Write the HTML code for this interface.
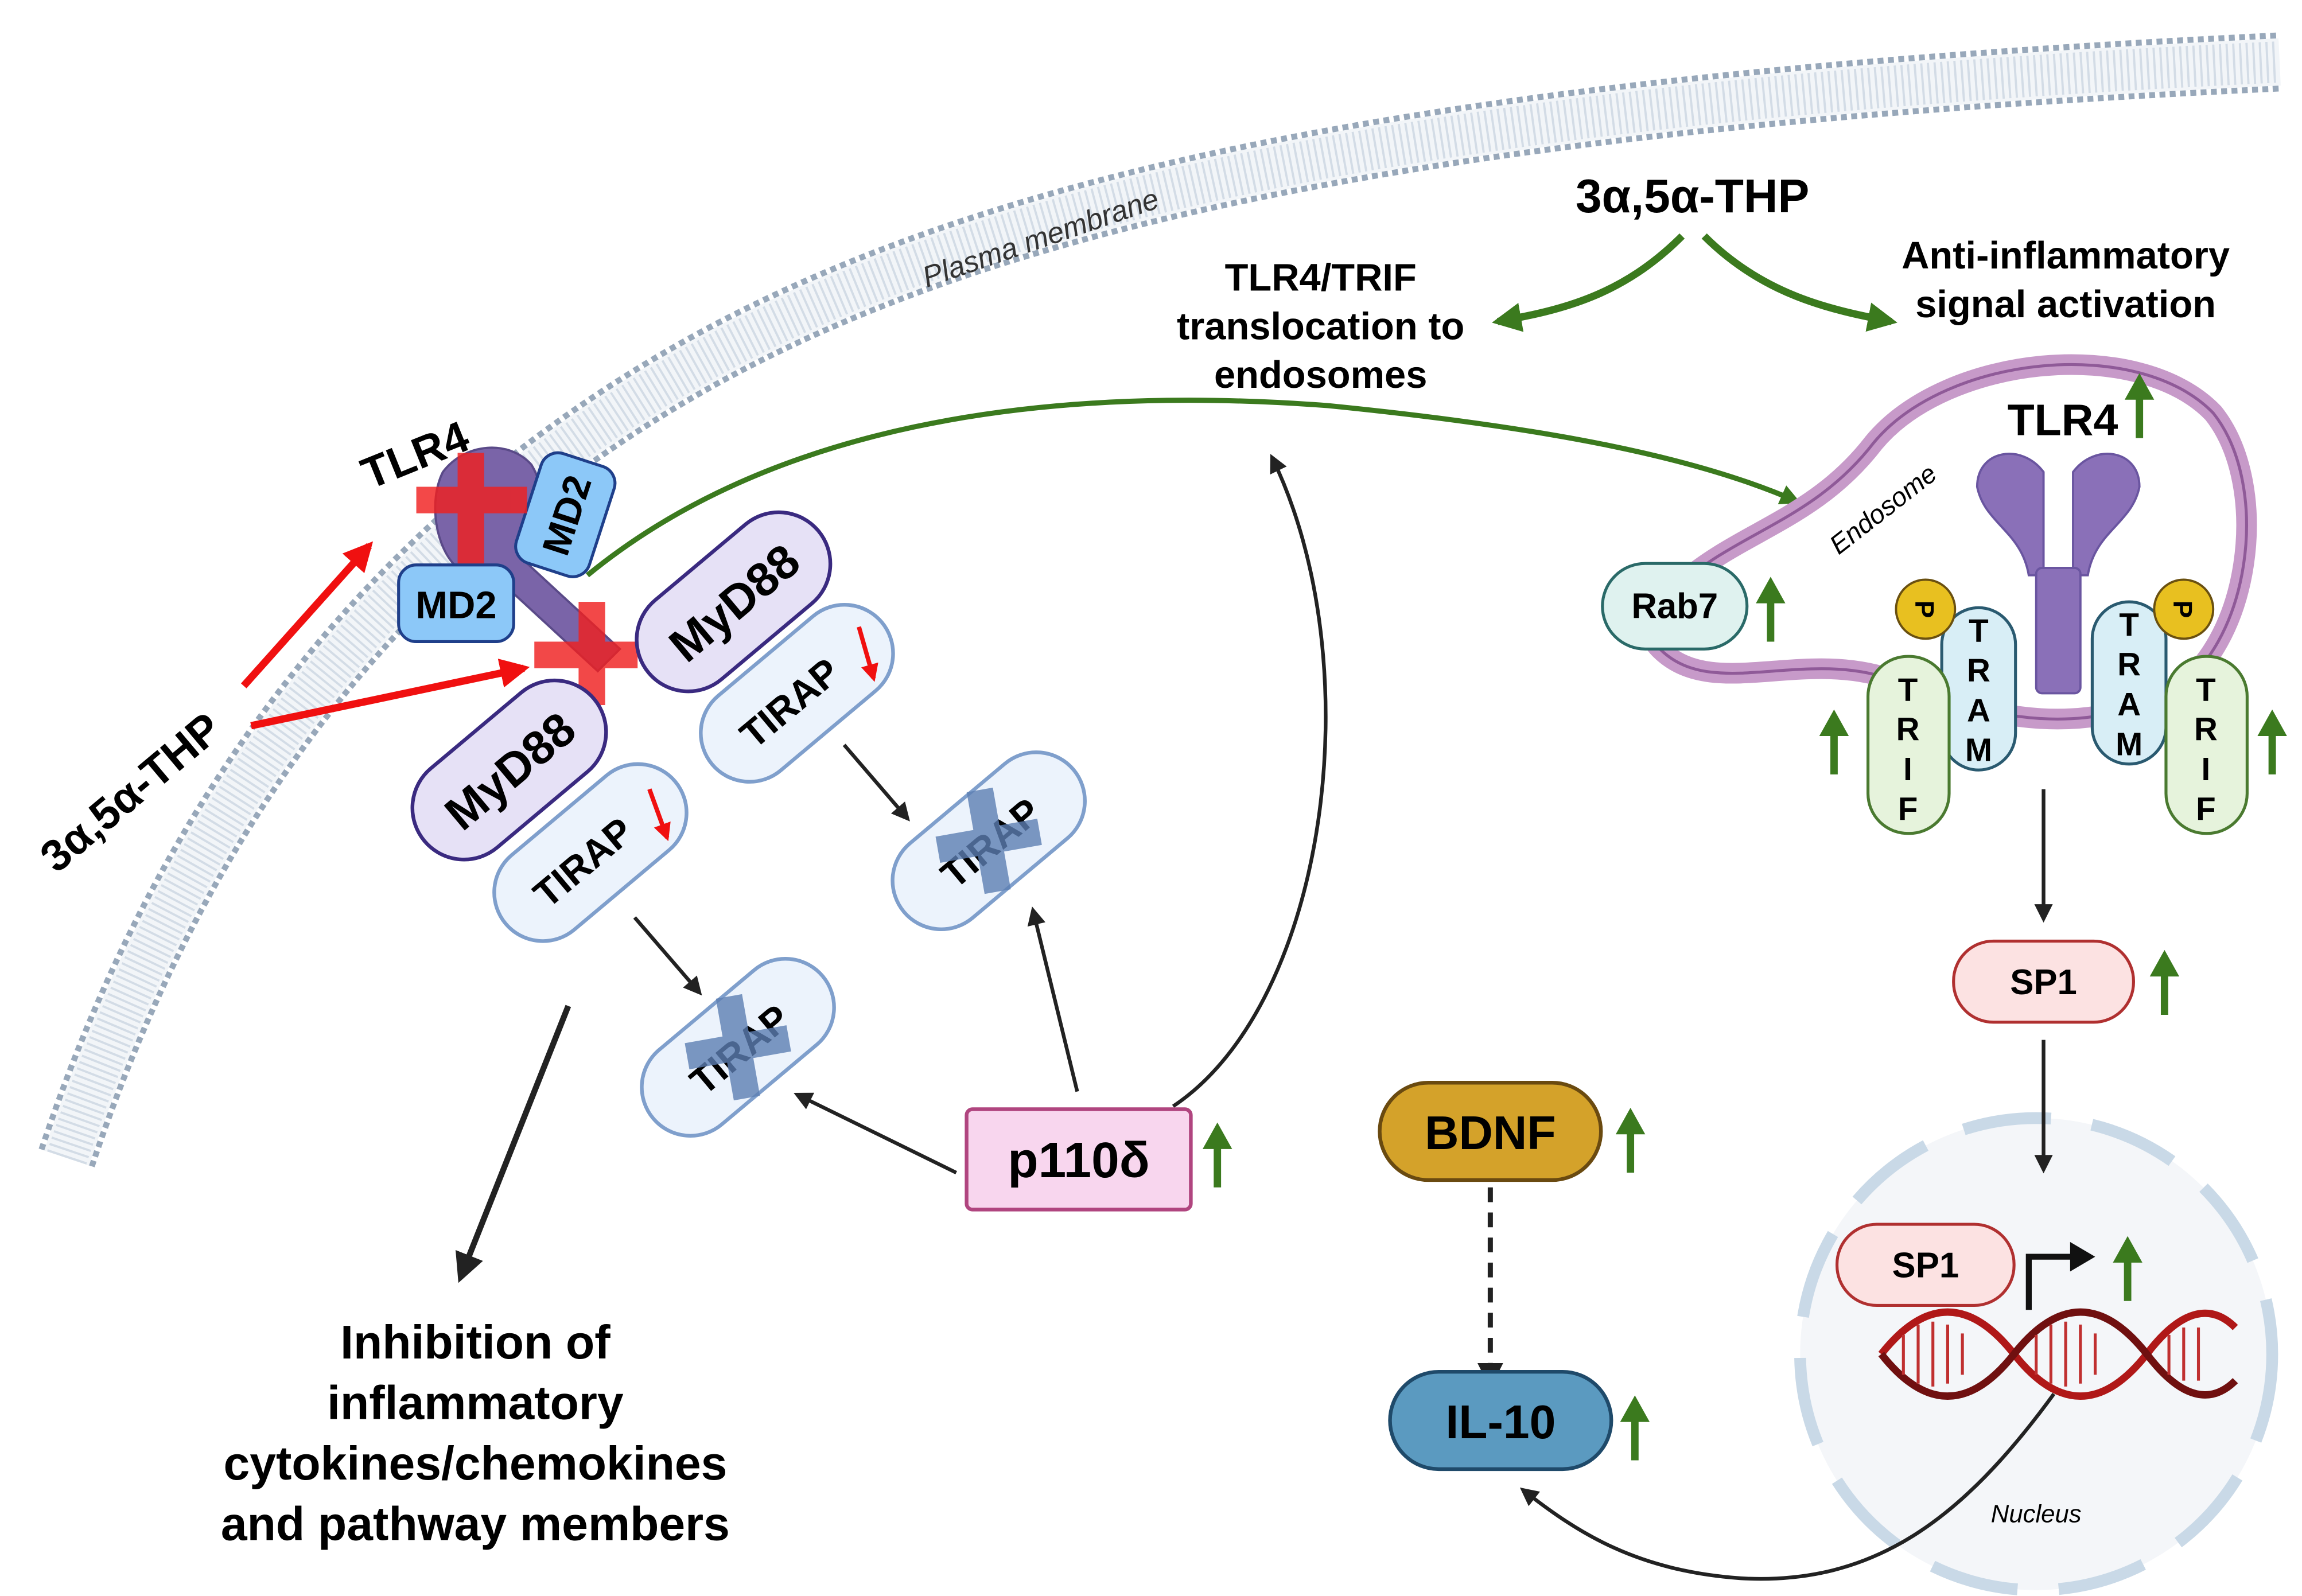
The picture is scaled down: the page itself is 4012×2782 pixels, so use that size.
<!DOCTYPE html>
<html><head><meta charset="utf-8"><style>
html,body{margin:0;padding:0;background:#fff}
svg{display:block}
text{font-family:"Liberation Sans",Arial,sans-serif}
.b{font-weight:bold}
</style></head><body>
<svg width="4012" height="2782" viewBox="0 0 1560 1082" xmlns="http://www.w3.org/2000/svg">
<defs>
<marker id="ak" viewBox="0 0 10 10" refX="8" refY="5" markerWidth="5" markerHeight="5" orient="auto"><path d="M0,0L10,5L0,10z" fill="#222"/></marker>
<marker id="ar" viewBox="0 0 10 10" refX="8" refY="5" markerWidth="4" markerHeight="4" orient="auto"><path d="M0,0L10,5L0,10z" fill="#f01010"/></marker>
<marker id="ag" viewBox="0 0 10 10" refX="8" refY="5" markerWidth="4" markerHeight="4" orient="auto"><path d="M0,0L10,5L0,10z" fill="#3b7a1e"/></marker>
<g id="up"><path d="M0,30 L0,0" stroke="#3b7a1e" stroke-width="5"/><path d="M-10,4 L0,-14 L10,4z" fill="#3b7a1e"/></g>
</defs>

<!-- membrane -->
<path d="M45,785 C120,560 250,380 450,260 C650,140 950,70 1545,42" fill="none" stroke="#98a8ba" stroke-width="40" stroke-dasharray="4 3"/>
<path d="M45,785 C120,560 250,380 450,260 C650,140 950,70 1545,42" fill="none" stroke="#f2f5f8" stroke-width="32"/>
<path d="M45,785 C120,560 250,380 450,260 C650,140 950,70 1545,42" fill="none" stroke="#d3dce6" stroke-width="28" stroke-dasharray="1.5 3"/>
<text x="628" y="195" font-size="20" font-style="italic" fill="#333" transform="rotate(-19 628 195)">Plasma membrane</text>

<!-- top THP -->
<text x="1147" y="144" font-size="32" class="b" text-anchor="middle">3α,5α-THP</text>
<path d="M1140,160 C1100,200 1060,210 1015,218" fill="none" stroke="#3b7a1e" stroke-width="5" marker-end="url(#ag)"/>
<path d="M1155,160 C1195,200 1240,210 1282,218" fill="none" stroke="#3b7a1e" stroke-width="5" marker-end="url(#ag)"/>
<g font-size="26" class="b" text-anchor="middle">
<text x="895" y="197">TLR4/TRIF</text><text x="895" y="230">translocation to</text><text x="895" y="263">endosomes</text>
<text x="1400" y="182">Anti-inflammatory</text><text x="1400" y="215">signal activation</text>
</g>

<!-- left THP -->
<text x="95" y="545" font-size="30" class="b" text-anchor="middle" transform="rotate(-40 95 545)">3α,5α-THP</text>
<path d="M165,465 L250,370" stroke="#f01010" stroke-width="5" marker-end="url(#ar)"/>
<path d="M170,492 L355,453" stroke="#f01010" stroke-width="5" marker-end="url(#ar)"/>

<!-- TLR4 receptor left -->
<path d="M300,320 C315,300 345,298 360,315 C372,335 365,355 350,370 L355,380 L420,440 L405,455 L340,395 L310,385 C295,372 290,340 300,320z" fill="#7a64a8" stroke="#5a4a88" stroke-width="1.5"/>
<text x="285" y="318" font-size="30" class="b" text-anchor="middle" transform="rotate(-22 285 318)">TLR4</text>
<rect x="270" y="383" width="78" height="52" rx="12" fill="#8cc8f8" stroke="#1f3f8a" stroke-width="2"/>
<text x="309" y="419" font-size="26" class="b" text-anchor="middle">MD2</text>
<g transform="rotate(-72 383 349)"><rect x="344" y="323" width="78" height="52" rx="12" fill="#8cc8f8" stroke="#1f3f8a" stroke-width="2"/>
<text x="383" y="359" font-size="26" class="b" text-anchor="middle">MD2</text></g>
<g fill="#f02020" opacity="0.82"><rect x="310" y="307" width="18" height="75"/><rect x="282" y="330" width="75" height="18"/>
<rect x="392" y="408" width="18" height="70"/><rect x="362" y="435" width="70" height="18"/></g>

<!-- green curve to endosome -->
<path d="M398,390 C520,290 700,260 900,275 C1050,290 1150,310 1218,340" fill="none" stroke="#3b7a1e" stroke-width="3.5" marker-end="url(#ag)"/>

<!-- MyD88 / TIRAP -->
<g transform="rotate(-40 497 408)"><rect x="422" y="373" width="150" height="70" rx="35" fill="#e6e1f6" stroke="#3a2a80" stroke-width="2.5"/><text x="497" y="420" font-size="32" class="b" text-anchor="middle">MyD88</text></g>
<g transform="rotate(-40 345 522)"><rect x="270" y="487" width="150" height="70" rx="35" fill="#e6e1f6" stroke="#3a2a80" stroke-width="2.5"/><text x="345" y="534" font-size="32" class="b" text-anchor="middle">MyD88</text></g>
<g transform="rotate(-40 540 470)"><rect x="465" y="437" width="150" height="66" rx="33" fill="#ecf3fc" stroke="#7f9fcc" stroke-width="2.5"/><text x="532" y="481" font-size="26" class="b" text-anchor="middle">TIRAP</text></g>
<path d="M582,425 L592,460" stroke="#f01010" stroke-width="3" marker-end="url(#ar)"/>
<g transform="rotate(-40 400 578)"><rect x="325" y="545" width="150" height="66" rx="33" fill="#ecf3fc" stroke="#7f9fcc" stroke-width="2.5"/><text x="392" y="589" font-size="26" class="b" text-anchor="middle">TIRAP</text></g>
<path d="M440,535 L452,568" stroke="#f01010" stroke-width="3" marker-end="url(#ar)"/>
<g transform="rotate(-40 670 570)"><rect x="595" y="537" width="150" height="66" rx="33" fill="#ecf3fc" stroke="#7f9fcc" stroke-width="2.5"/><text x="670" y="581" font-size="26" class="b" text-anchor="middle">TIRAP</text>
<g fill="#5d7fb3" opacity="0.8"><rect x="661" y="535" width="18" height="70" transform="rotate(30 670 570)"/><rect x="635" y="561" width="70" height="18" transform="rotate(30 670 570)"/></g></g>
<g transform="rotate(-40 500 710)"><rect x="425" y="677" width="150" height="66" rx="33" fill="#ecf3fc" stroke="#7f9fcc" stroke-width="2.5"/><text x="500" y="721" font-size="26" class="b" text-anchor="middle">TIRAP</text>
<g fill="#5d7fb3" opacity="0.8"><rect x="491" y="675" width="18" height="70" transform="rotate(30 500 710)"/><rect x="465" y="701" width="70" height="18" transform="rotate(30 500 710)"/></g></g>

<!-- black arrows left -->
<g stroke="#222" stroke-width="2.5" fill="none" marker-end="url(#ak)">
<path d="M572,505 L615,555"/><path d="M430,622 L474,673"/>
<path d="M648,795 L540,742"/><path d="M730,740 L700,617"/>
<path d="M795,750 C900,680 930,450 862,310"/>
</g>
<path d="M385,682 L312,866" stroke="#222" stroke-width="4" fill="none" marker-end="url(#ak)"/>

<!-- p110 -->
<rect x="655" y="752" width="152" height="68" rx="4" fill="#f8d6ee" stroke="#b0457f" stroke-width="2.5"/>
<text x="731" y="798" font-size="34" class="b" text-anchor="middle">p110δ</text>
<use href="#up" x="825" y="775"/>

<g font-size="32" class="b" text-anchor="middle">
<text x="322" y="921">Inhibition of</text><text x="322" y="962">inflammatory</text><text x="322" y="1003">cytokines/chemokines</text><text x="322" y="1044">and pathway members</text>
</g>

<!-- endosome -->
<path d="M1140,395 C1180,360 1230,352 1270,300 C1320,240 1450,228 1500,280 C1540,330 1525,440 1470,470 C1400,505 1330,480 1280,460 C1220,440 1160,475 1125,440 C1110,425 1120,405 1140,395 Z" fill="none" stroke="#c79ac9" stroke-width="14"/>
<path d="M1140,395 C1180,360 1230,352 1270,300 C1320,240 1450,228 1500,280 C1540,330 1525,440 1470,470 C1400,505 1330,480 1280,460 C1220,440 1160,475 1125,440 C1110,425 1120,405 1140,395 Z" fill="none" stroke="#8f5a98" stroke-width="2"/>
<text x="1280" y="350" font-size="18" font-style="italic" transform="rotate(-38 1280 350)" text-anchor="middle">Endosome</text>
<rect x="1086" y="382" width="98" height="58" rx="29" fill="#dff2ef" stroke="#2a6a68" stroke-width="2"/>
<text x="1135" y="419" font-size="24" class="b" text-anchor="middle">Rab7</text>
<use href="#up" x="1200" y="405"/>
<text x="1398" y="295" font-size="30" class="b" text-anchor="middle">TLR4</text>
<use href="#up" x="1450" y="267"/>
<g fill="#8a70b8" stroke="#6a55a0" stroke-width="1.5">
<path d="M1340,330 C1340,305 1370,300 1385,320 L1385,390 L1375,390 C1370,360 1345,355 1340,330z"/>
<path d="M1450,330 C1450,305 1420,300 1405,320 L1405,390 L1415,390 C1420,360 1445,355 1450,330z"/>
<rect x="1380" y="385" width="30" height="85" rx="4"/>
</g>
<rect x="1316" y="412" width="50" height="110" rx="25" fill="#d8eef6" stroke="#2a5a70" stroke-width="2"/>
<rect x="1418" y="408" width="50" height="110" rx="25" fill="#d8eef6" stroke="#2a5a70" stroke-width="2"/>
<rect x="1266" y="445" width="55" height="120" rx="27" fill="#e6f3dc" stroke="#4a7a30" stroke-width="2"/>
<rect x="1468" y="445" width="55" height="120" rx="27" fill="#e6f3dc" stroke="#4a7a30" stroke-width="2"/>
<g font-size="22" class="b" text-anchor="middle">
<text x="1341" y="435">T</text><text x="1341" y="462">R</text><text x="1341" y="489">A</text><text x="1341" y="516">M</text>
<text x="1443" y="431">T</text><text x="1443" y="458">R</text><text x="1443" y="485">A</text><text x="1443" y="512">M</text>
<text x="1293" y="475">T</text><text x="1293" y="502">R</text><text x="1293" y="529">I</text><text x="1293" y="556">F</text>
<text x="1495" y="475">T</text><text x="1495" y="502">R</text><text x="1495" y="529">I</text><text x="1495" y="556">F</text>
</g>
<circle cx="1305" cy="413" r="20" fill="#e8c020" stroke="#6a5010" stroke-width="1.5"/>
<circle cx="1480" cy="413" r="20" fill="#e8c020" stroke="#6a5010" stroke-width="1.5"/>
<text x="1305" y="420" font-size="18" class="b" text-anchor="middle" transform="rotate(90 1305 413)">P</text>
<text x="1480" y="420" font-size="18" class="b" text-anchor="middle" transform="rotate(90 1480 413)">P</text>
<use href="#up" x="1243" y="495"/>
<use href="#up" x="1540" y="495"/>

<path d="M1385,535 L1385,623" stroke="#222" stroke-width="2.5" marker-end="url(#ak)"/>
<rect x="1324" y="638" width="122" height="55" rx="27" fill="#fce2e2" stroke="#b03030" stroke-width="2"/>
<text x="1385" y="674" font-size="24" class="b" text-anchor="middle">SP1</text>
<use href="#up" x="1467" y="658"/>

<!-- nucleus -->
<circle cx="1380" cy="918" r="160" fill="#f4f6f9" stroke="#c9d9e7" stroke-width="8" stroke-dasharray="60 28"/>
<path d="M1385,705 L1385,793" stroke="#222" stroke-width="2.5" marker-end="url(#ak)"/>
<text x="1380" y="1032" font-size="17" font-style="italic" text-anchor="middle">Nucleus</text>
<path d="M1275,918 C1305,880 1335,880 1365,918 C1395,956 1425,956 1455,918 C1480,885 1500,885 1515,900" fill="none" stroke="#b01818" stroke-width="5"/>
<path d="M1275,918 C1305,956 1335,956 1365,918 C1395,880 1425,880 1455,918 C1480,951 1500,951 1515,936" fill="none" stroke="#701010" stroke-width="5"/>
<g stroke="#c03030" stroke-width="2"><path d="M1290,905V932M1300,898V938M1310,896V940M1320,898V938M1330,904V932M1380,905V932M1390,898V938M1400,896V940M1410,898V938M1420,904V932M1470,905V932M1480,900V936M1490,900V936"/></g>
<rect x="1245" y="830" width="120" height="55" rx="27" fill="#fce2e2" stroke="#b03030" stroke-width="2"/>
<text x="1305" y="866" font-size="24" class="b" text-anchor="middle">SP1</text>
<path d="M1375,888 L1375,852 L1405,852" fill="none" stroke="#111" stroke-width="4"/>
<path d="M1403,842 L1420,852 L1403,862z" fill="#111"/>
<use href="#up" x="1442" y="852"/>

<!-- BDNF / IL-10 -->
<rect x="935" y="734" width="150" height="66" rx="33" fill="#d4a22a" stroke="#6a4a10" stroke-width="2.5"/>
<text x="1010" y="779" font-size="32" class="b" text-anchor="middle">BDNF</text>
<use href="#up" x="1105" y="765"/>
<path d="M1010,805 L1010,938" stroke="#222" stroke-width="3.5" stroke-dasharray="10 7" marker-end="url(#ak)"/>
<rect x="942" y="930" width="150" height="66" rx="33" fill="#5b9ac0" stroke="#1f4a6a" stroke-width="2.5"/>
<text x="1017" y="975" font-size="32" class="b" text-anchor="middle">IL-10</text>
<use href="#up" x="1108" y="960"/>
<path d="M1392,945 C1330,1030 1270,1075 1180,1070 C1110,1065 1070,1040 1032,1010" fill="none" stroke="#222" stroke-width="2.5" marker-end="url(#ak)"/>
</svg>
</body></html>
